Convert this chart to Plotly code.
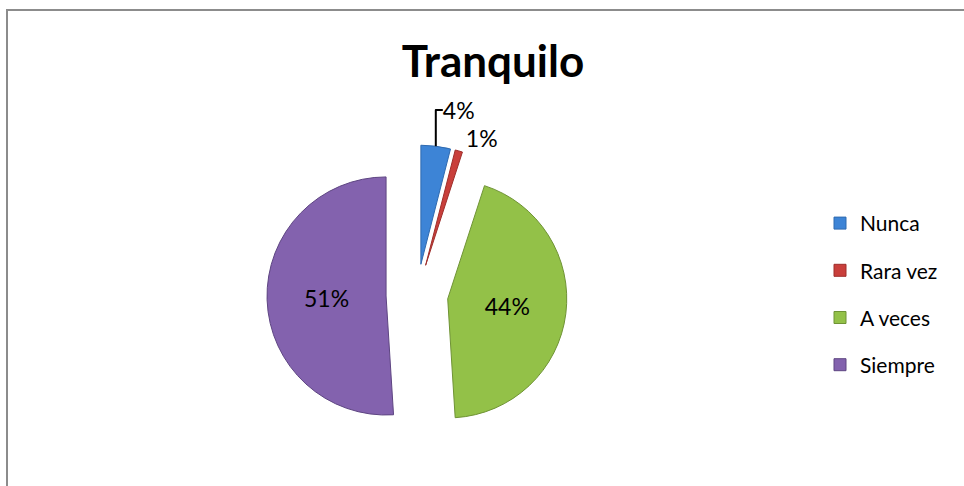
import plotly.graph_objects as go

categories = ["Nunca", "Rara vez", "A veces", "Siempre"]
values = [4, 1, 44, 51]
colors = ["#3D84D6", "#C93F3B", "#93C148", "#8362AE"]
line_colors = ["#2F6AB0", "#9E2E2B", "#6F9335", "#5E4582"]
text_positions = ["outside", "outside", "inside", "inside"]
pulls = [0.26, 0.26, 0.26, 0.26]

legend_labels = ['<span style="font-size:21px;baseline-shift:5px">%s</span>' % c
                 for c in categories]

fig = go.Figure(go.Pie(
    labels=legend_labels,
    values=values,
    sort=False,
    direction="clockwise",
    rotation=0,
    pull=pulls,
    marker=dict(colors=colors, line=dict(color=line_colors, width=1)),
    textinfo="percent",
    textposition=text_positions,
    insidetextorientation="horizontal",
    textfont=dict(family="Lato", size=23, color="#000000"),
    domain=dict(x=[267 / 964, 567 / 964], y=[1 - 445 / 486, 1 - 145 / 486]),
    hovertemplate="%{customdata}: %{percent}<extra></extra>",
    customdata=categories,
))

fig.update_layout(
    width=964,
    height=486,
    margin=dict(l=0, r=0, t=0, b=0),
    paper_bgcolor="white",
    plot_bgcolor="white",
    font=dict(family="Lato", color="#000000"),
    title=dict(text="<b>Tranquilo</b>", x=493 / 964, xanchor="center",
               y=1 - 62 / 486, yanchor="middle",
               font=dict(family="Lato", size=44, color="#000000")),
    legend=dict(x=820 / 964, xanchor="left", y=1 - 294 / 486, yanchor="middle",
                font=dict(family="Lato", size=34, color="#000000"),
                bgcolor="rgba(0,0,0,0)"),
    shapes=[dict(type="rect", xref="paper", yref="paper",
                 x0=7 / 964, x1=1.02, y0=-0.02, y1=1 - 10 / 486,
                 line=dict(color="#8C8C8C", width=2), fillcolor="rgba(0,0,0,0)",
                 layer="below")],
)

fig.write_html("out.html")
